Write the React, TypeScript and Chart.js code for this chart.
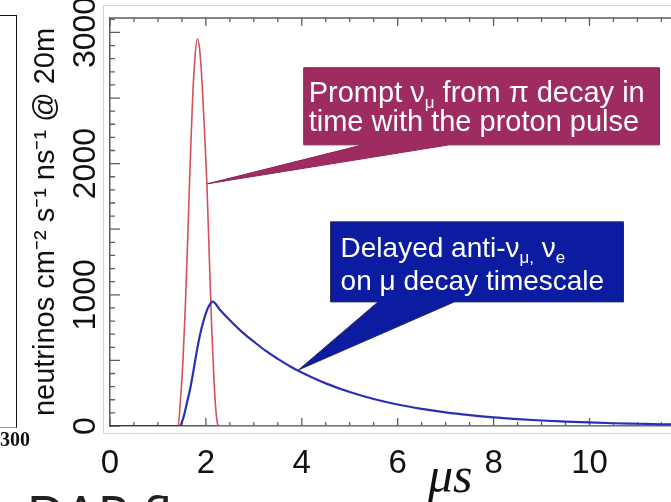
import React, { useEffect, useRef } from 'react';
import { Chart, registerables } from 'chart.js';

Chart.register(...registerables);

// ---------- data ----------
// Prompt nu_mu from pi decay (red)
const promptTimes = [0, 1.40, 1.42, 1.47, 1.52, 1.57, 1.62, 1.67, 1.72, 1.77, 1.82, 1.87, 1.92, 1.97, 2.02, 2.07, 2.12, 2.17, 2.21, 2.25, 2.28, 11.7];
const promptFlux = [0, 0, 0, 200, 480, 900, 1420, 1980, 2470, 2800, 2950, 2870, 2620, 2260, 1850, 1300, 760, 340, 110, 10, 0, 0];

// Delayed anti-nu_mu, nu_e from mu decay (blue)
const delayedTimes = [0, 1.45, 1.50, 1.55, 1.60, 1.67, 1.74, 1.81, 1.88, 1.95, 2.02, 2.08, 2.14, 2.30, 2.50, 2.75, 3.00, 3.25, 3.50, 3.75, 4.00, 4.50, 5.00, 5.50, 6.00, 6.50, 7.00, 7.50, 8.00, 8.50, 9.00, 9.50, 10.00, 10.50, 11.00, 11.50, 11.70];
const delayedFlux = [0, 0, 30, 90, 170, 280, 420, 570, 700, 800, 880, 925, 948, 882, 806, 718, 643, 572, 512, 456, 408, 325, 259, 206, 164, 131, 104, 83, 66, 53, 42, 34, 27, 21, 17, 13, 12];

const xTickValues = [0, 2, 4, 6, 8, 10];
const yTickValues = [0, 1000, 2000, 3000];

const X_MIN = 0;
const X_MAX = 11.7;
const Y_MIN = 0;
const Y_MAX = 3110;

const yTitle = 'neutrinos cm\u207B\u00B2 s\u207B\u00B9 ns\u207B\u00B9 @ 20m';

// ---------- styling / layout ----------
const SANS = "'Liberation Sans', Arial, Helvetica, sans-serif";
const AXIS_COLOR = '#5c5c5c';

const tickMarks = {
  yMinor: 100,
  yMajor: 500,
  xMinor: 0.5,
  xMajor: 2,
};

type Seg = { t: string; sub?: boolean };
const CALLOUTS = [
  {
    box: [4.04, 11.46, 2731, 2143],
    base: [5.27, 7.07],
    tip: [2.03, 1846],
    fill: '#9e2c60',
    edge: '#8a2453',
    font: `29px ${SANS}`,
    subFont: `17px ${SANS}`,
    subDrop: 6,
    textDx: 5,
    baselines: [34, 63],
    lines: [
      [{ t: 'Prompt \u03BD' }, { t: '\u03BC', sub: true }, { t: ' from \u03C0 decay in' }],
      [{ t: 'time with the proton pulse' }],
    ] as Seg[][],
  },
  {
    box: [4.60, 10.71, 1556, 946],
    base: [5.59, 7.18],
    tip: [3.93, 427],
    fill: '#0c1ca0',
    edge: '#2a2a5a',
    font: `28px ${SANS}`,
    subFont: `17px ${SANS}`,
    subDrop: 6,
    textDx: 10,
    baselines: [35, 68],
    lines: [
      [{ t: 'Delayed anti-\u03BD' }, { t: '\u03BC,', sub: true }, { t: ' \u03BD' }, { t: 'e', sub: true }],
      [{ t: 'on \u03BC decay timescale' }],
    ] as Seg[][],
  },
];

const framePlugin = {
  id: 'frameTicks',
  beforeDraw(chart: any) {
    const { ctx, chartArea } = chart;
    ctx.save();
    ctx.strokeStyle = '#d4d4d4';
    ctx.lineWidth = 1;
    ctx.strokeRect(chartArea.left - 7 + 0.5, chartArea.top - 13 + 0.5, 2000, chartArea.bottom - chartArea.top + 20);
    ctx.restore();
  },
  beforeDatasetsDraw(chart: any) {
    const { ctx, chartArea } = chart;
    const xs = chart.scales.x;
    const ys = chart.scales.y;
    ctx.save();
    ctx.strokeStyle = AXIS_COLOR;
    ctx.lineWidth = 1.5;
    // top frame line
    ctx.beginPath();
    ctx.moveTo(chartArea.left, chartArea.top);
    ctx.lineTo(chartArea.right, chartArea.top);
    ctx.stroke();
    ctx.lineWidth = 1.3;
    ctx.beginPath();
    for (let v = Y_MIN; v <= Y_MAX; v += tickMarks.yMinor) {
      const len = v % tickMarks.yMajor === 0 ? 10 : 5;
      const p = ys.getPixelForValue(v);
      ctx.moveTo(chartArea.left, p);
      ctx.lineTo(chartArea.left + len, p);
    }
    for (let i = 0; X_MIN + i * tickMarks.xMinor <= X_MAX; i++) {
      const v = X_MIN + i * tickMarks.xMinor;
      const major = Math.abs(v / tickMarks.xMajor - Math.round(v / tickMarks.xMajor)) < 1e-6;
      const len = major ? 8 : 4;
      const p = xs.getPixelForValue(v);
      ctx.moveTo(p, chartArea.bottom);
      ctx.lineTo(p, chartArea.bottom - len);
      ctx.moveTo(p, chartArea.top);
      ctx.lineTo(p, chartArea.top + len);
    }
    ctx.stroke();
    ctx.restore();
  },
  afterDatasetsDraw(chart: any) {
    const { ctx } = chart;
    const xs = chart.scales.x;
    const ys = chart.scales.y;
    for (const c of CALLOUTS) {
      const L = xs.getPixelForValue(c.box[0]);
      const R = xs.getPixelForValue(c.box[1]);
      const T = ys.getPixelForValue(c.box[2]);
      const B = ys.getPixelForValue(c.box[3]);
      const b0 = xs.getPixelForValue(c.base[0]);
      const b1 = xs.getPixelForValue(c.base[1]);
      const tx = xs.getPixelForValue(c.tip[0]);
      const ty = ys.getPixelForValue(c.tip[1]);
      ctx.save();
      ctx.beginPath();
      ctx.moveTo(L, T);
      ctx.lineTo(R, T);
      ctx.lineTo(R, B);
      ctx.lineTo(b1, B);
      ctx.lineTo(tx, ty);
      ctx.lineTo(b0, B);
      ctx.lineTo(L, B);
      ctx.closePath();
      ctx.fillStyle = c.fill;
      ctx.fill();
      ctx.strokeStyle = c.edge;
      ctx.lineWidth = 1;
      ctx.stroke();
      ctx.fillStyle = '#ffffff';
      ctx.textBaseline = 'alphabetic';
      ctx.textAlign = 'left';
      c.lines.forEach((segs, i) => {
        let x = L + c.textDx;
        const y = T + c.baselines[i];
        for (const s of segs) {
          ctx.font = s.sub ? c.subFont : c.font;
          ctx.fillText(s.t, x, s.sub ? y + c.subDrop : y);
          x += ctx.measureText(s.t).width;
        }
      });
      ctx.restore();
    }
  },
};

export default function App() {
  const canvasRef = useRef<HTMLCanvasElement | null>(null);

  useEffect(() => {
    const canvas = canvasRef.current;
    if (!canvas) return;
    const chart = new Chart(canvas, {
      type: 'line',
      data: {
        datasets: [
          {
            label: 'Delayed',
            data: delayedTimes.map((x, i) => ({ x, y: delayedFlux[i] })),
            borderColor: '#2b2fb3',
            borderWidth: 2.2,
            pointRadius: 0,
            fill: false,
            cubicInterpolationMode: 'monotone',
          },
          {
            label: 'Prompt',
            data: promptTimes.map((x, i) => ({ x, y: promptFlux[i] })),
            borderColor: '#d6505c',
            borderWidth: 1.6,
            pointRadius: 0,
            fill: false,
            cubicInterpolationMode: 'monotone',
          },
        ],
      },
      options: {
        responsive: false,
        animation: false,
        devicePixelRatio: 1,
        layout: { padding: { top: 18, right: 0, bottom: 0, left: 0 } },
        plugins: { legend: { display: false }, tooltip: { enabled: false } },
        scales: {
          x: {
            type: 'linear',
            min: X_MIN,
            max: X_MAX,
            afterFit: (s: any) => { s.height = 76; },
            afterBuildTicks: (s: any) => { s.ticks = xTickValues.map((v) => ({ value: v })); },
            grid: { display: false, drawTicks: false },
            border: { display: true, color: AXIS_COLOR, width: 1.5 },
            ticks: {
              font: { family: SANS, size: 33 },
              color: '#111',
              padding: 18,
              maxRotation: 0,
              autoSkip: false,
              callback: (v: any) => String(v),
            },
          },
          y: {
            type: 'linear',
            min: Y_MIN,
            max: Y_MAX,
            afterFit: (s: any) => { s.width = 110; },
            afterBuildTicks: (s: any) => { s.ticks = yTickValues.map((v) => ({ value: v })); },
            grid: { display: false, drawTicks: false },
            border: { display: true, color: AXIS_COLOR, width: 1.5 },
            ticks: {
              font: { family: SANS, size: 32 },
              color: '#111',
              minRotation: 90,
              maxRotation: 90,
              crossAlign: 'center',
              padding: -12,
              autoSkip: false,
              callback: (v: any) => String(v),
            },
            title: {
              display: true,
              text: yTitle,
              color: '#111',
              font: { family: SANS, size: 29 },
              padding: { top: 29, bottom: 0 },
            },
          },
        },
      },
      plugins: [framePlugin],
    } as any);
    return () => chart.destroy();
  }, []);

  return (
    <div style={{ position: 'fixed', left: 0, top: 0, width: 671, height: 502, overflow: 'hidden', background: '#fff' }}>
      <canvas ref={canvasRef} width={671} height={502} style={{ position: 'absolute', left: 0, top: 0, display: 'block' }} />
      <div style={{ position: 'absolute', left: -20, top: 15, width: 36, height: 411, borderTop: '1.5px solid #111', borderRight: '1.5px solid #111', borderBottom: '1.5px solid #8c8ce0' }} />
      <div style={{ position: 'absolute', left: 0, top: 429, font: 'bold 20px "Liberation Serif", serif', lineHeight: 1, color: '#111' }}>300</div>
      <div style={{ position: 'absolute', left: 428, top: 450, font: 'italic 50px "Liberation Serif", serif', lineHeight: 1, color: '#111' }}>{'\u03BCs'}</div>
      <div style={{ position: 'absolute', left: 27, top: 488, fontFamily: 'Lato, sans-serif', fontSize: 50, lineHeight: 1, color: '#222', whiteSpace: 'nowrap' }}>DAR flux</div>
    </div>
  );
}
